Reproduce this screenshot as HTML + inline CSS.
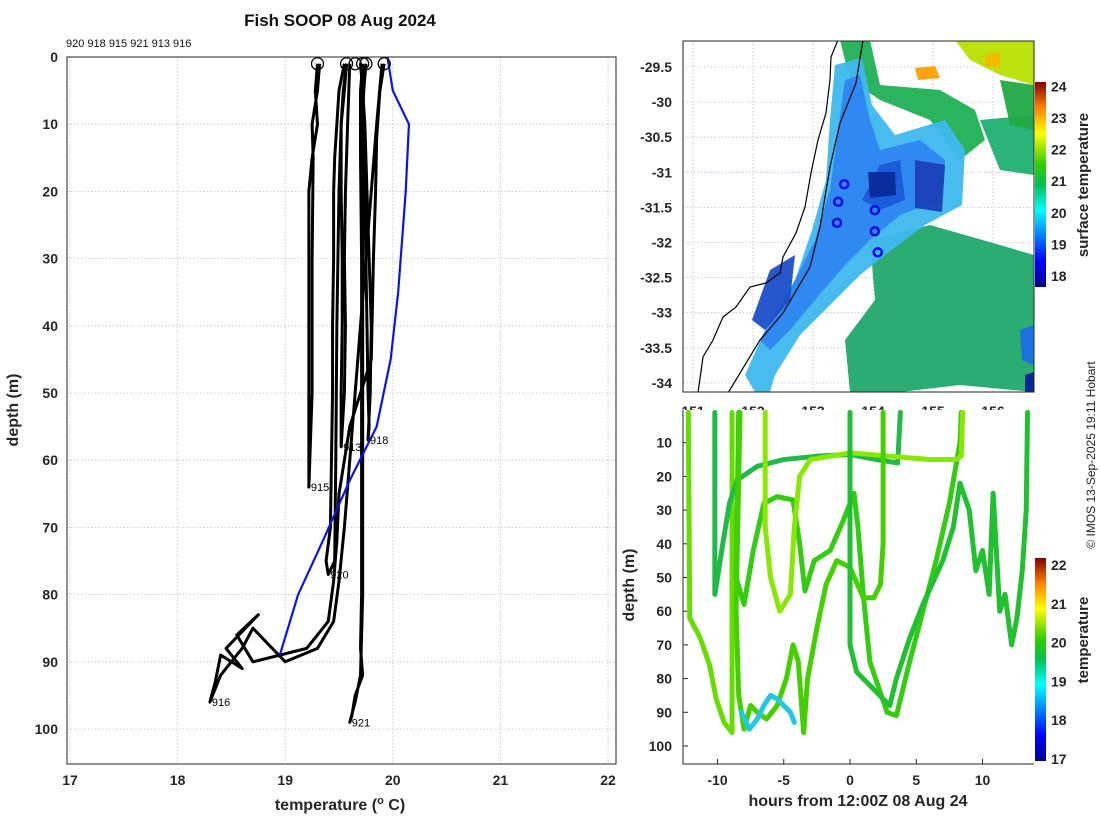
<!DOCTYPE html>
<html><head><meta charset="utf-8">
<style>
body{margin:0;background:#fff;}
svg{display:block;font-family:"Liberation Sans","DejaVu Sans",sans-serif;}
.tk{font-size:14px;font-weight:bold;fill:#262626;}
.lab{font-size:16px;font-weight:bold;fill:#262626;}
.grid{stroke:#b8bfd8;stroke-width:0.8;stroke-dasharray:1.5 2;}
</style></head>
<body>
<svg id="fig" width="1100" height="820" viewBox="0 0 1100 820">
<defs>
<linearGradient id="jet" x1="0" y1="1" x2="0" y2="0">
<stop offset="0" stop-color="#00008f"/><stop offset="0.125" stop-color="#0000ff"/><stop offset="0.375" stop-color="#00ffff"/><stop offset="0.5" stop-color="#00c050"/><stop offset="0.6" stop-color="#33cc00"/><stop offset="0.75" stop-color="#ffff00"/><stop offset="0.875" stop-color="#ff8000"/><stop offset="1" stop-color="#800000"/>
</linearGradient>
<clipPath id="mapclip"><rect x="683" y="41" width="351" height="351"/></clipPath>
<clipPath id="tsclip"><rect x="683" y="405" width="351" height="359"/></clipPath>
<clipPath id="lclip"><rect x="67" y="57" width="549" height="707"/></clipPath>
</defs>
<text x="340" y="26" text-anchor="middle" style="font-size:17px;font-weight:bold;fill:#111">Fish SOOP 08 Aug 2024</text>
<text x="66" y="47" style="font-size:11px;fill:#111">920 918 915 921 913 916</text>
<g id="left"></g>
<g id="map"></g>
<g id="ts"></g>
<text transform="translate(1095,455) rotate(-90)" text-anchor="middle" style="font-size:12px;fill:#222">© IMOS 13-Sep-2025 19:11 Hobart</text>
</svg>
<script>
// ---------- left profile data ----------
const xTicks=[17,18,19,20,21,22];
const yTicks=[0,10,20,30,40,50,60,70,80,90,100];
const profileIds=['920','918','915','921','913','916'];
const p920T=[19.55,19.5,19.48,19.46,19.45,19.45,19.44,19.44,19.43,19.42,19.38,19.4,19.46,19.47,19.48,19.5,19.52,19.55,19.57];
const p920D=[1,5,10,15,20,30,40,50,60,70,75,77,75,60,40,20,10,5,1];
const p918T=[19.75,19.73,19.72,19.74,19.75,19.76,19.77,19.78,19.77,19.79,19.8,19.78,19.76,19.74,19.72,19.75];
const p918D=[1,5,10,20,30,40,50,55,57,50,40,30,20,10,5,1];
const p915T=[19.3,19.28,19.3,19.25,19.22,19.22,19.22,19.22,19.22,19.22,19.25,19.25,19.26,19.25,19.3,19.32];
const p915D=[1,5,10,15,20,30,40,50,60,64,50,30,15,10,5,1];
const p921T=[19.72,19.7,19.7,19.71,19.71,19.71,19.71,19.71,19.7,19.72,19.65,19.62,19.6,19.65,19.7,19.72,19.72,19.72,19.72,19.72,19.7];
const p921D=[1,5,15,30,45,60,70,80,88,92,95,98,99,96,92,80,60,40,20,5,1];
const p913T=[19.57,19.54,19.52,19.52,19.53,19.53,19.52,19.52,19.52,19.55,19.56,19.55,19.56,19.58,19.6];
const p913D=[1,5,10,20,30,40,50,55,58,50,40,30,20,10,1];
const p916T=[19.92,19.88,19.85,19.84,19.82,19.8,19.6,19.5,19.48,19.45,19.4,19.2,18.7,18.55,18.75,18.45,18.6,18.4,18.35,18.3,18.4,18.6,18.7,19.0,19.3,19.45,19.5,19.55,19.6,19.7,19.8,19.85,19.9];
const p916D=[1,5,12,20,30,45,55,65,72,78,84,88,90,86,83,88,91,89,93,96,92,88,85,90,88,84,78,70,60,40,20,10,1];
const blueT=[19.95,20.0,20.15,20.12,20.05,19.98,19.85,19.6,19.35,19.12,18.95];
const blueD=[0,5,10,20,35,45,55,63,72,80,89];
const startT=[19.3,19.57,19.65,19.72,19.75,19.92];
const NS='http://www.w3.org/2000/svg';
function mk(tag,attrs,parent){const e=document.createElementNS(NS,tag);for(const k in attrs)e.setAttribute(k,attrs[k]);parent.appendChild(e);return e;}
const L=document.getElementById('left');
const lx=t=>70+(t-17)*107.6, ly=d=>57+d*6.72;
mk('rect',{x:67,y:57,width:549,height:707,fill:'#fff'},L);
xTicks.forEach(t=>{const l=mk('line',{x1:lx(t),x2:lx(t),y1:57,y2:764,class:'grid'},L);
 
 const tx=mk('text',{x:lx(t),y:785,'text-anchor':'middle',class:'tk'},L);tx.textContent=t;
 });
yTicks.forEach(d=>{const l=mk('line',{x1:67,x2:616,y1:ly(d),y2:ly(d),class:'grid'},L);
 
 const tx=mk('text',{x:58,y:ly(d)+5,'text-anchor':'end',class:'tk'},L);tx.textContent=d;
 });
const profs=[[p920T,p920D],[p918T,p918D],[p915T,p915D],[p921T,p921D],[p913T,p913D],[p916T,p916D]];
const LG=mk('g',{'clip-path':'url(#lclip)'},L);
profs.forEach((p,i)=>{const pts=p[0].map((t,j)=>lx(t)+','+ly(p[1][j])).join(' ');
 const pl=mk('polyline',{points:pts,fill:'none',stroke:'#000','stroke-width':3,'stroke-linejoin':'round'},LG);
 
 let k=0;p[1].forEach((d,j)=>{if(d>p[1][k])k=j;});
 const tx=mk('text',{x:lx(p[0][k])+2,y:ly(p[1][k])+4,style:'font-size:11px;fill:#000'},L);tx.textContent=profileIds[i];
 });
const bl=mk('polyline',{points:blueT.map((t,j)=>lx(t)+','+ly(blueD[j])).join(' '),fill:'none',stroke:'#0a14e6','stroke-width':2.2},LG);

startT.forEach(t=>{const c=mk('circle',{cx:lx(t),cy:ly(1),r:6,fill:'none',stroke:'#000','stroke-width':1.3},L);
 });
mk('rect',{x:67,y:57,width:549,height:707,fill:'none',stroke:'#262626','stroke-width':1},L);
let t1=mk('text',{x:340,y:810,'text-anchor':'middle',class:'lab'},L);t1.innerHTML='temperature (<tspan dy="-6" style="font-size:11px">o</tspan><tspan dy="6"> C)</tspan>';

let t2=mk('text',{transform:'translate(18,410) rotate(-90)','text-anchor':'middle',class:'lab'},L);t2.textContent='depth (m)';


// ---------- map ----------
const latTicks=[-29.5,-30,-30.5,-31,-31.5,-32,-32.5,-33,-33.5,-34];
const lonTicks=[151,152,153,154,155,156];
const stnLon=[153.52,153.42,153.40,154.03,154.03,154.08];
const stnLat=[-31.17,-31.42,-31.72,-31.54,-31.84,-32.14];
const sstTicks=[18,19,20,21,22,23,24];
const M=document.getElementById('map');
const mx=lon=>693+(lon-151)*60, my=lat=>67+(-29.5-lat)*70.2;
mk('rect',{x:683,y:41,width:351,height:351,fill:'#fff'},M);
lonTicks.forEach(v=>{const l=mk('line',{x1:mx(v),x2:mx(v),y1:41,y2:392,class:'grid'},M);
 const tx=mk('text',{x:mx(v),y:416,'text-anchor':'middle',class:'tk'},M);tx.textContent=v;});
latTicks.forEach(v=>{const l=mk('line',{x1:683,x2:1034,y1:my(v),y2:my(v),class:'grid'},M);
 const tx=mk('text',{x:672,y:my(v)+5,'text-anchor':'end',class:'tk'},M);tx.textContent=v;});
const MG=mk('g',{'clip-path':'url(#mapclip)'},M);
const blobs=[
['#1fa86a','870,240 930,225 1000,245 1034,255 1034,392 960,385 900,392 850,392 845,340 875,300'],
['#20b055','840,40 870,40 880,85 940,90 975,110 985,140 960,160 930,120 880,100 850,80'],
['#1fb070','980,120 1034,115 1034,175 1000,170'],
['#b8e000','955,40 1034,40 1034,85 1000,75 970,60'],
['#22aa44','1000,80 1034,85 1034,130 1010,125'],
['#3fb8ee','835,65 862,58 872,105 895,135 945,120 965,150 962,205 925,225 885,255 860,275 830,305 800,335 775,375 770,392 755,392 745,375 765,330 795,280 812,230 826,180 830,120'],
['#2e86f0','845,80 860,75 870,120 880,150 920,140 945,160 940,200 900,215 870,240 845,265 815,300 790,330 770,350 760,340 790,290 815,240 830,190'],
['#1a5ad8','880,165 900,160 905,200 880,210 862,200'],
['#0a2a9a','868,172 895,172 896,195 870,198'],
['#1a3fb8','915,160 945,165 942,212 915,208'],
['#1a4ec8','770,270 795,255 790,300 765,330 752,320'],
['#1a6ee6','1020,330 1034,325 1034,365 1022,360'],
['#05209a','1025,375 1034,372 1034,392 1025,392'],
['#ff9f00','915,68 935,66 940,78 918,80'],
['#f5b800','985,55 1000,52 1000,68 985,66']];
blobs.forEach(b=>{const p=mk('polygon',{points:b[1],fill:b[0],opacity:0.95},MG);});
const coast=mk('polyline',{points:'838,40 831,57 830,80 826,113 818,140 811,173 805,207 796,233 783,257 780,273 766,283 750,287 736,307 723,317 713,340 703,357 698,393',fill:'none',stroke:'#000','stroke-width':1.2},MG);

const shelf=mk('polyline',{points:'863,40 856,83 840,123 830,167 820,227 810,267 783,313 760,340 728,393',fill:'none',stroke:'#000','stroke-width':1.2},MG);

stnLon.forEach((lon,i)=>{const c=mk('circle',{cx:mx(lon),cy:my(stnLat[i]),r:4,fill:'none',stroke:'#0a0ae6','stroke-width':2.5},M);
 });
mk('rect',{x:683,y:41,width:351,height:351,fill:'none',stroke:'#262626'},M);
const cb1=mk('rect',{x:1035,y:82,width:11,height:205,fill:'url(#jet)'},M);
sstTicks.forEach(v=>{const y=276-(v-18)*31.6;const tx=mk('text',{x:1051,y:y+5,class:'tk'},M);tx.textContent=v;});
let t3=mk('text',{transform:'translate(1088,185) rotate(-90)','text-anchor':'middle',class:'lab',style:'font-size:15px'},M);t3.textContent='surface temperature';


// ---------- depth-time plot ----------
const hTicks=[-10,-5,0,5,10];
const dTicks=[10,20,30,40,50,60,70,80,90,100];
const tempTicks=[17,18,19,20,21,22];
const tr1H=[-12.2,-12.1,-11.3,-10.6,-10.1,-9.5,-8.9,-8.9];
const tr1D=[1,62,68,76,86,93,96,1];
const tr2H=[-10.2,-10.2,-9.6,-9.1,-8.5,-7,-5,-2.5,0,2,3.6,3.8];
const tr2D=[1,55,40,28,21,17,15,14,13.5,15,16,1];
const tr3H=[-8.4,-8.6,-8,-7.3,-6.5,-5.5,-4.3,-3.8,-3.4,-2.7,-1.5,-0.5,0.3,0.6,1,1.5,2.8,3.5,4.5,5.5,6.5,7.5,8.3,8.4];
const tr3D=[1,50,58,42,28,26,27,40,54,45,42,33,25,35,55,75,90,91,75,60,45,28,10,1];
const tr4H=[-6.4,-6.4,-6,-5.3,-4.5,-4.2,-3.8,-3,0,3,6,8,8.4,8.5];
const tr4D=[1,35,50,60,55,35,20,15,13,14,15,15,14,1];
const tr5H=[-8.3,-8.6,-8.4,-8,-7.5,-7,-6.3,-5.5,-4.8,-4.3,-3.9,-3.5,-3.2,-2.5,-1.8,-1,0,1,1.8,2.3,2.5,2.5];
const tr5D=[1,60,85,95,88,90,92,88,80,70,75,96,80,65,52,45,47,56,56,52,40,1];
const tr6H=[0,0,0.5,1,2,3,3.5,4.5,5.5,7,7.8,8.3,9,9.5,10,10.5,10.8,11.3,11.7,12.2,12.6,13,13.3,13.4];
const tr6D=[1,70,78,80,84,88,80,68,58,45,35,22,30,48,42,55,25,60,55,70,62,48,30,1];
const tr7H=[-8.2,-7.6,-7,-6.5,-6,-5.5,-5,-4.5,-4.2];
const tr7D=[90,95,92,88,85,86,88,90,93];
const traceColors=['#66dd00','#22b84a','#33cc11','#88e800','#44d000','#20c030','#22c8e0'];
const T=document.getElementById('ts');
const tx_=h=>850+h*13.25, ty_=d=>409+d*3.37;
mk('rect',{x:683,y:410,width:351,height:354,fill:'#fff'},T);
hTicks.forEach(v=>{const tx=mk('text',{x:tx_(v),y:785,'text-anchor':'middle',class:'tk'},T);tx.textContent=v;
 const l=mk('line',{x1:tx_(v),x2:tx_(v),y1:764,y2:759,stroke:'#262626'},T);});
dTicks.forEach(v=>{const tx=mk('text',{x:672,y:ty_(v)+5,'text-anchor':'end',class:'tk'},T);tx.textContent=v;
 const l=mk('line',{x1:683,x2:688,y1:ty_(v),y2:ty_(v),stroke:'#262626'},T);});
const TG=mk('g',{'clip-path':'url(#tsclip)'},T);
const traces=[[tr1H,tr1D],[tr2H,tr2D],[tr3H,tr3D],[tr4H,tr4D],[tr5H,tr5D],[tr6H,tr6D],[tr7H,tr7D]];
traces.forEach((tr,i)=>{const pts=tr[0].map((h,j)=>tx_(h)+','+ty_(tr[1][j])).join(' ');
 const pl=mk('polyline',{points:pts,fill:'none',stroke:traceColors[i],'stroke-width':5,'stroke-linejoin':'round','stroke-linecap':'round'},TG);
 });
mk('polyline',{points:'683,410 683,764 1034,764',fill:'none',stroke:'#262626'},T);
const cb2=mk('rect',{x:1035,y:558,width:11,height:203,fill:'url(#jet)'},T);
tempTicks.forEach(v=>{const y=759-(v-17)*38.8;const tx=mk('text',{x:1051,y:y+5,class:'tk'},T);tx.textContent=v;});
let t4=mk('text',{transform:'translate(1088,640) rotate(-90)','text-anchor':'middle',class:'lab',style:'font-size:15px'},T);t4.textContent='temperature';

let t5=mk('text',{x:858,y:806,'text-anchor':'middle',class:'lab'},T);t5.textContent='hours from 12:00Z 08 Aug 24';

let t6=mk('text',{transform:'translate(634,585) rotate(-90)','text-anchor':'middle',class:'lab'},T);t6.textContent='depth (m)';

</script>
</body></html>
